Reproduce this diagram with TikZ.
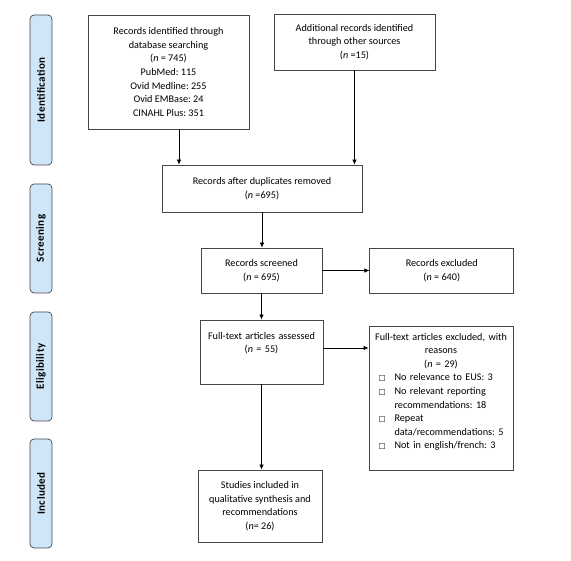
\documentclass[tikz,border=0pt]{standalone}
\usepackage{fontspec}
\setmainfont{Carlito}
\newfontfamily\symfont{DejaVu Sans}
\newfontfamily\stagefont{Carlito}[LetterSpace=4]
\usepackage{tikz}
\usetikzlibrary{positioning}
\usetikzlibrary{arrows.meta}

\definecolor{stagefill}{RGB}{206,230,248}
\definecolor{edgegray}{RGB}{70,70,70}
\newcommand{\nn}{\textit{n}}
\newcommand{\sqmark}{{\symfont\fontsize{7.5}{8}\selectfont □}}
\frenchspacing

\begin{document}
\begin{tikzpicture}[x=1pt, y=1pt,
    box/.style={rectangle, draw=edgegray, line width=0.8pt, align=center, inner sep=4pt, font=\fontsize{10.2}{13.6}\selectfont},
    stage/.style={rectangle, rounded corners=4pt, draw=edgegray, line width=0.7pt, fill=stagefill, rotate=90, minimum height=22pt, inner sep=0pt, font=\stagefont\fontsize{11}{12}\selectfont\bfseries},
    flow/.style={-{Latex[length=5pt,width=4.5pt]}, line width=0.6pt}
]
\useasboundingbox (0,0) rectangle (571,-561);

% Stage bands (left column)
\foreach \name/\txt/\yc/\len in {ident/Identification/90/150, screen/Screening/238.5/109, elig/Eligibility/366.5/109, incl/Included/493.5/109}
   \node[stage, minimum width=\len pt] (\name) at (41,-\yc) {\txt};

% Boxes
\node[box, minimum width=161pt, minimum height=114pt] (db) at (168.5,-72) {Records identified through\\ database searching\\ (\nn{} = 745)\\ PubMed: 115\\ Ovid Medline: 255\\ Ovid EMBase: 24\\ CINAHL Plus: 351};
\node[box, minimum width=161pt, minimum height=56pt] (other) at (354.5,-42) {Additional records identified\\ through other sources\\ (\nn{} =15)};
\node[box, minimum width=200pt, minimum height=47pt] (dup) at (262,-188.5) {Records after duplicates removed\\ (\nn{} =695)};
\node[box, minimum width=121pt, minimum height=45pt] (screened) at (261.5,-270.5) {Records screened\\ (\nn{} = 695)};
\node[box, minimum width=144pt, minimum height=45pt, right=47pt of screened] (excluded) {Records excluded\\ (\nn{} = 640)};
\node[box, minimum width=123pt, minimum height=64pt, text width=117pt, inner xsep=3pt] (fulltext) at (261.5,-352) {Full-text articles assessed\par (\nn{} = 55)\par\kern18pt};
\node[box, minimum width=144pt, minimum height=144pt, text width=134pt, inner xsep=5pt] (ftexcl) at (441,-398) {%
   Full-text articles excluded, with\\ reasons\\ (\nn{} = 29)\\
   \begin{tabular}[t]{@{}p{16pt}@{}l@{}}
   \sqmark & No relevance to EUS: 3\\
   \sqmark & No relevant reporting\\
           & recommendations: 18\\
   \sqmark & Repeat\\
           & data/recommendations: 5\\
   \sqmark & Not in english/french: 3
   \end{tabular}\par\kern10pt};
\node[box, minimum width=124pt, minimum height=72pt] (studies) at (260,-506) {Studies included in\\ qualitative synthesis and\\ recommendations\\ (\nn{}= 26)};

% Arrows
\draw[flow] ([xshift=10.5pt]db.south) -- ([xshift=10.5pt]db.south |- dup.north);
\draw[flow] (other.south) -- (other.south |- dup.north);
\draw[flow] (dup.south) -- (dup.south |- screened.north);
\draw[flow] (screened) -- (excluded);
\draw[flow] (screened.south) -- (screened.south |- fulltext.north);
\draw[flow] ([yshift=4pt]fulltext.east) -- ([yshift=4pt]fulltext.east -| ftexcl.west);
\draw[flow] (fulltext.south) -- (fulltext.south |- studies.north);

\end{tikzpicture}
\end{document}
